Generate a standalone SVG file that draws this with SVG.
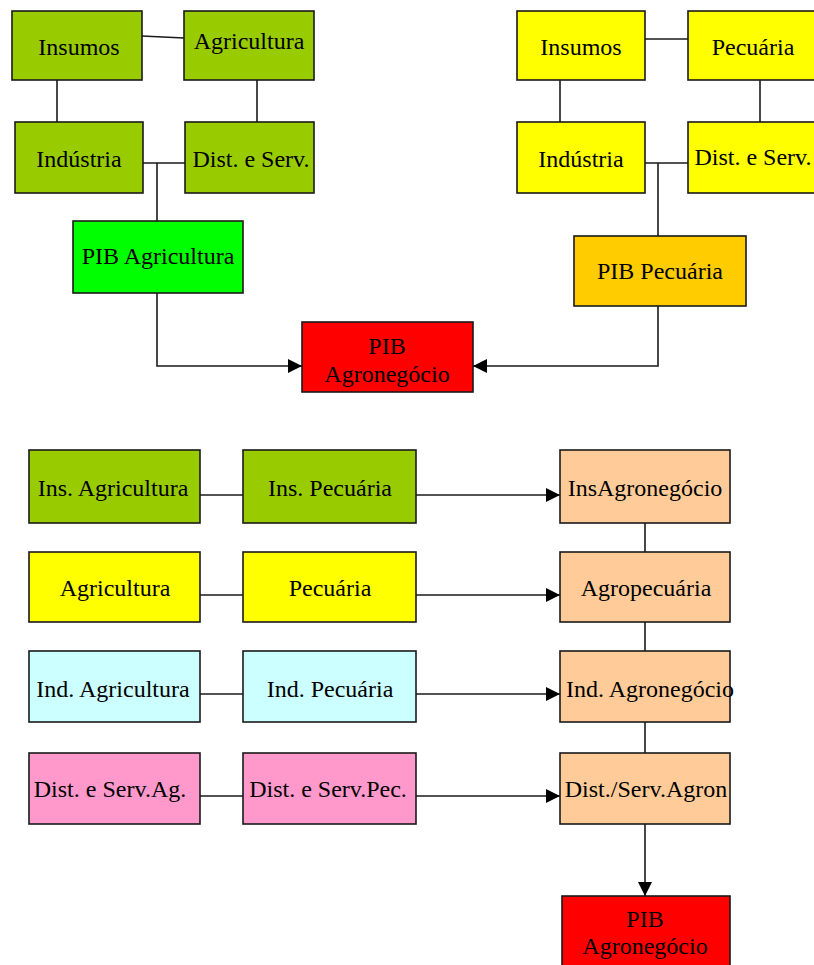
<svg xmlns="http://www.w3.org/2000/svg" width="814" height="965" viewBox="0 0 814 965">
<style>
.b{stroke:#1a1a1a;stroke-width:1.6}
.t{font-family:'Liberation Serif','Times New Roman',Times,'DejaVu Serif',serif;font-size:24px;fill:#000;text-anchor:middle}
.c{fill:none;stroke:#1a1a1a;stroke-width:1.6}
.olive{fill:#99CC00}.yel{fill:#FFFF00}.grn{fill:#00FF00}.org{fill:#FFCC00}.red{fill:#FF0000}.pch{fill:#FFCC99}.cyn{fill:#CCFFFF}.pnk{fill:#FF99CC}
</style>
<defs>
<marker id="ah" viewBox="0 0 14 14" refX="14" refY="7" markerWidth="14" markerHeight="14" markerUnits="userSpaceOnUse" orient="auto">
<path d="M0,0 L14,7 L0,14 z" fill="#000"/>
</marker>
</defs>
<rect width="814" height="965" fill="#fff"/>
<g id="connectors">
<line class="c" x1="142" y1="36" x2="184" y2="38"/>
<line class="c" x1="57" y1="80" x2="57" y2="122"/>
<line class="c" x1="257" y1="80" x2="257" y2="122"/>
<line class="c" x1="143" y1="163" x2="185" y2="163"/>
<line class="c" x1="157" y1="163" x2="157" y2="221"/>
<polyline class="c" points="157,293 157,366 302,366" marker-end="url(#ah)"/>
<line class="c" x1="645" y1="39" x2="688" y2="39"/>
<line class="c" x1="560" y1="80" x2="560" y2="122"/>
<line class="c" x1="760" y1="80" x2="760" y2="122"/>
<line class="c" x1="645" y1="163" x2="688" y2="163"/>
<line class="c" x1="658" y1="163" x2="658" y2="236"/>
<polyline class="c" points="658,306 658,366 473,366" marker-end="url(#ah)"/>
<line class="c" x1="200" y1="495" x2="243" y2="495"/>
<line class="c" x1="416" y1="495" x2="560" y2="495" marker-end="url(#ah)"/>
<line class="c" x1="200" y1="595" x2="243" y2="595"/>
<line class="c" x1="416" y1="595" x2="560" y2="595" marker-end="url(#ah)"/>
<line class="c" x1="200" y1="694" x2="243" y2="694"/>
<line class="c" x1="416" y1="694" x2="560" y2="694" marker-end="url(#ah)"/>
<line class="c" x1="200" y1="796" x2="243" y2="796"/>
<line class="c" x1="416" y1="796" x2="560" y2="796" marker-end="url(#ah)"/>
<line class="c" x1="645" y1="523" x2="645" y2="552"/>
<line class="c" x1="645" y1="622" x2="645" y2="651"/>
<line class="c" x1="645" y1="722" x2="645" y2="753"/>
<line class="c" x1="645" y1="824" x2="645" y2="896" marker-end="url(#ah)"/>
</g>
<g id="insumos-ag"><rect class="b olive" x="12" y="11" width="130" height="69"/><text class="t" x="79" y="55">Insumos</text></g>
<g id="agricultura"><rect class="b olive" x="184" y="11" width="130" height="69"/><text class="t" x="249" y="49">Agricultura</text></g>
<g id="industria-ag"><rect class="b olive" x="15" y="122" width="128" height="71"/><text class="t" x="79" y="167">Indústria</text></g>
<g id="dist-ag"><rect class="b olive" x="185" y="122" width="129" height="71"/><text class="t" x="251" y="167">Dist. e Serv.</text></g>
<g id="pib-agricultura"><rect class="b grn" x="73" y="221" width="170" height="72"/><text class="t" x="158" y="264">PIB Agricultura</text></g>
<g id="insumos-pec"><rect class="b yel" x="517" y="11" width="128" height="69"/><text class="t" x="581" y="55">Insumos</text></g>
<g id="pecuaria"><rect class="b yel" x="688" y="11" width="132" height="69"/><text class="t" x="753" y="55">Pecuária</text></g>
<g id="industria-pec"><rect class="b yel" x="517" y="122" width="128" height="71"/><text class="t" x="581" y="167">Indústria</text></g>
<g id="dist-pec"><rect class="b yel" x="688" y="122" width="132" height="71"/><text class="t" x="753" y="165">Dist. e Serv.</text></g>
<g id="pib-pecuaria"><rect class="b org" x="574" y="236" width="172" height="70"/><text class="t" x="660" y="279">PIB Pecuária</text></g>
<g id="pib-agro-top"><rect class="b red" x="302" y="322" width="171" height="70"/><text class="t" x="387" y="354">PIB</text><text class="t" x="387" y="382">Agronegócio</text></g>
<g id="ins-agricultura"><rect class="b olive" x="29" y="450" width="171" height="73"/><text class="t" x="113" y="496">Ins. Agricultura</text></g>
<g id="ins-pecuaria"><rect class="b olive" x="243" y="450" width="173" height="73"/><text class="t" x="330" y="496">Ins. Pecuária</text></g>
<g id="ins-agronegocio"><rect class="b pch" x="560" y="450" width="170" height="73"/><text class="t" x="645" y="496">InsAgronegócio</text></g>
<g id="agricultura2"><rect class="b yel" x="29" y="552" width="171" height="70"/><text class="t" x="115" y="596">Agricultura</text></g>
<g id="pecuaria2"><rect class="b yel" x="243" y="552" width="173" height="70"/><text class="t" x="330" y="596">Pecuária</text></g>
<g id="agropecuaria"><rect class="b pch" x="560" y="552" width="170" height="70"/><text class="t" x="646" y="596">Agropecuária</text></g>
<g id="ind-agricultura"><rect class="b cyn" x="29" y="651" width="171" height="71"/><text class="t" x="113" y="697">Ind. Agricultura</text></g>
<g id="ind-pecuaria"><rect class="b cyn" x="243" y="651" width="173" height="71"/><text class="t" x="330" y="697">Ind. Pecuária</text></g>
<g id="ind-agronegocio"><rect class="b pch" x="560" y="651" width="170" height="71"/><text class="t" x="650" y="697">Ind. Agronegócio</text></g>
<g id="dist-ag2"><rect class="b pnk" x="29" y="753" width="171" height="71"/><text class="t" x="110" y="797">Dist. e Serv.Ag.</text></g>
<g id="dist-pec2"><rect class="b pnk" x="243" y="753" width="173" height="71"/><text class="t" x="328" y="797">Dist. e Serv.Pec.</text></g>
<g id="dist-agron"><rect class="b pch" x="560" y="753" width="170" height="71"/><text class="t" x="646" y="797">Dist./Serv.Agron</text></g>
<g id="pib-agro-bottom"><rect class="b red" x="562" y="896" width="168" height="75"/><text class="t" x="645" y="927">PIB</text><text class="t" x="645" y="954">Agronegócio</text></g>
</svg>
